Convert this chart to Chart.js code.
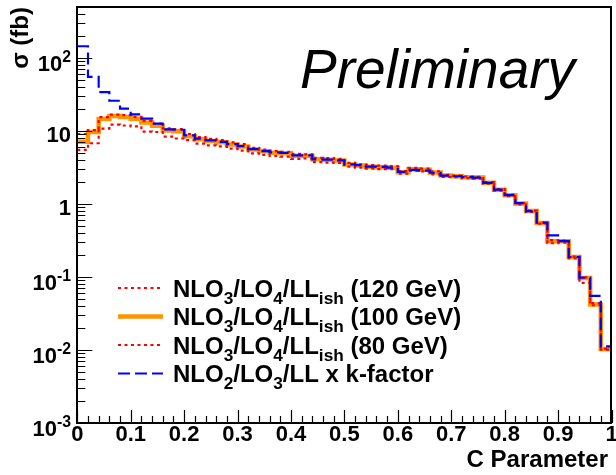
<!DOCTYPE html>
<html>
<head>
<meta charset="utf-8">
<title>C Parameter distribution</title>
<script src="https://cdn.jsdelivr.net/npm/chart.js@4.4.1/dist/chart.umd.min.js"></script>
<style>
  html, body { margin: 0; padding: 0; background: #fff; overflow: hidden; }
  canvas { display: block; }
</style>
</head>
<body>
<canvas id="cparam" width="616" height="475"></canvas>
<script>
// Lower edges of the 50 histogram bins (bin width 0.02)
const binLowEdges = [
  0.00, 0.02, 0.04, 0.06, 0.08, 0.10, 0.12, 0.14, 0.16, 0.18,
  0.20, 0.22, 0.24, 0.26, 0.28, 0.30, 0.32, 0.34, 0.36, 0.38,
  0.40, 0.42, 0.44, 0.46, 0.48, 0.50, 0.52, 0.54, 0.56, 0.58,
  0.60, 0.62, 0.64, 0.66, 0.68, 0.70, 0.72, 0.74, 0.76, 0.78,
  0.80, 0.82, 0.84, 0.86, 0.88, 0.90, 0.92, 0.94, 0.96, 0.98
];
const xUpperEdge = 1.0;

// sigma per bin (fb)
const sigma120 = [
  9.1, 10.3, 15.5, 16.8, 16.5, 15.6, 13.8, 12.6, 10.9, 10.6,
  9.1, 8.25, 7.8, 7.5, 7.0, 6.6, 5.9, 5.55, 5.3, 5.2,
  4.85, 4.8, 4.3, 4.25, 4.15, 3.65, 3.5, 3.4, 3.35, 3.3,
  2.83, 3.12, 3.05, 2.8, 2.5, 2.45, 2.38, 2.35, 1.99, 1.6,
  1.35, 1.03, 0.81, 0.555, 0.32, 0.315, 0.19, 0.099, 0.044, 0.0104
];
const sigma100 = [
  7.1, 9.7, 14.6, 16.0, 15.6, 14.7, 13.1, 11.8, 10.2, 9.9,
  8.5, 7.7, 7.3, 7.0, 6.55, 6.15, 5.6, 5.3, 5.05, 4.95,
  4.6, 4.6, 4.1, 4.05, 3.95, 3.48, 3.38, 3.25, 3.2, 3.15,
  2.72, 3.0, 2.95, 2.7, 2.45, 2.4, 2.33, 2.3, 1.95, 1.57,
  1.32, 1.02, 0.80, 0.55, 0.31, 0.31, 0.188, 0.097, 0.042, 0.0103
];
const sigma80 = [
  5.5, 6.8, 10.8, 12.2, 11.9, 11.6, 9.8, 9.7, 8.4, 7.9,
  7.5, 6.7, 6.35, 6.15, 5.75, 5.4, 4.95, 4.7, 4.55, 4.45,
  4.15, 4.2, 3.75, 3.7, 3.65, 3.25, 3.15, 3.05, 3.0, 3.0,
  2.6, 2.85, 2.8, 2.55, 2.35, 2.33, 2.26, 2.23, 1.9, 1.52,
  1.28, 0.99, 0.78, 0.54, 0.29, 0.295, 0.18, 0.083, 0.041, 0.0101
];
const sigmaKFactor = [
  145, 55, 34, 26, 20.3, 16.9, 14.8, 12.6, 10.5, 10.4,
  8.7, 7.85, 7.45, 7.1, 6.6, 6.2, 5.65, 5.3, 5.1, 5.0,
  4.65, 4.65, 4.1, 4.05, 3.95, 3.5, 3.4, 3.25, 3.22, 3.15,
  2.75, 2.93, 2.87, 2.68, 2.45, 2.4, 2.34, 2.3, 1.95, 1.57,
  1.32, 1.03, 0.80, 0.556, 0.373, 0.31, 0.188, 0.098, 0.055, 0.0112
];

// Legend texts (TLatex-like markup: _{...} subscript, ^{...} superscript)
const seriesLabels = [
  'NLO_{3}/LO_{4}/LL_{ish} (120 GeV)',
  'NLO_{3}/LO_{4}/LL_{ish} (100 GeV)',
  'NLO_{3}/LO_{4}/LL_{ish} (80 GeV)',
  'NLO_{2}/LO_{3}/LL x k-factor'
];

// Axis ticks and labels
const xTickValues = [0, 0.1, 0.2, 0.3, 0.4, 0.5, 0.6, 0.7, 0.8, 0.9, 1];
const xTickLabels = ['0', '0.1', '0.2', '0.3', '0.4', '0.5', '0.6', '0.7', '0.8', '0.9', '1'];
const yTickValues = [0.001, 0.01, 0.1, 1, 10, 100];
const yTickLabels = ['10^{-3}', '10^{-2}', '10^{-1}', '1', '10', '10^{2}'];
const xTitle = 'C Parameter';
const yTitle = 'σ (fb)';
const stampText = 'Preliminary';

const FONT = "'Liberation Sans', Arial, Helvetica, sans-serif";

// Histogram outline: one point per bin low edge plus the closing upper edge
function histPoints(values) {
  const pts = binLowEdges.map((x, i) => ({ x: x, y: values[i] }));
  pts.push({ x: xUpperEdge, y: values[values.length - 1] });
  return pts;
}

// Draws a string with _{} / ^{} markup; returns the end x
function richParts(str) {
  return str.split(/(_\{[^}]*\}|\^\{[^}]*\})/).filter(s => s.length);
}
function drawRich(ctx, str, x, y, size, weight, measureOnly) {
  let cx = x;
  for (const p of richParts(str)) {
    let t = p, s = size, dy = 0;
    if (p.startsWith('_{')) { t = p.slice(2, -1); s = size * 0.72; dy = size * 0.3; }
    else if (p.startsWith('^{')) { t = p.slice(2, -1); s = size * 0.72; dy = -size * 0.4; }
    ctx.font = `${weight} ${s}px ${FONT}`;
    if (!measureOnly) ctx.fillText(t, cx, y + dy);
    cx += ctx.measureText(t).width;
  }
  return cx;
}

const seriesStyles = [
  { color: '#ff0000', width: 2.2, dash: [3, 3.5] },
  { color: '#ff9400', width: 4.5, dash: [] },
  { color: '#ff0000', width: 2.2, dash: [3, 3.5] },
  { color: '#0000ff', width: 2.2, dash: [12, 5] }
];

// Frame, inner tick marks, labels, legend and stamp in the ROOT look
const rootFrame = {
  id: 'rootFrame',
  afterDatasetsDraw(chart) {
    const { ctx, chartArea: a, scales: { x, y } } = chart;
    ctx.save();
    ctx.strokeStyle = '#000';
    ctx.fillStyle = '#000';

    // x ticks (inside the frame)
    ctx.lineWidth = 1.2;
    ctx.beginPath();
    for (let i = 0; i <= 50; i++) {
      const px = Math.round(x.getPixelForValue(i / 50)) + 0.5;
      const len = (i % 5 === 0) ? 13 : 7;
      ctx.moveTo(px, a.bottom);
      ctx.lineTo(px, a.bottom - len);
    }
    // y ticks (log decades and 2..9 subdivisions)
    for (let d = -3; d <= 2; d++) {
      for (let m = 1; m <= 9; m++) {
        const v = m * Math.pow(10, d);
        if (v > y.max) break;
        const py = Math.round(y.getPixelForValue(v)) + 0.5;
        const len = (m === 1) ? 15 : 8;
        ctx.moveTo(a.left, py);
        ctx.lineTo(a.left + len, py);
      }
    }
    ctx.stroke();

    // frame
    ctx.lineWidth = 2;
    ctx.strokeRect(Math.round(a.left), Math.round(a.top), Math.round(a.right - a.left), Math.round(a.bottom - a.top));

    // x tick labels
    ctx.textBaseline = 'alphabetic';
    ctx.font = `bold 22px ${FONT}`;
    ctx.textAlign = 'center';
    xTickValues.forEach((v, i) => {
      ctx.fillText(xTickLabels[i], x.getPixelForValue(v), a.bottom + 18);
    });

    // y tick labels, right aligned
    ctx.textAlign = 'left';
    yTickValues.forEach((v, i) => {
      const lab = yTickLabels[i];
      const w = drawRich(ctx, lab, 0, 0, 22, 'bold', true);
      const hasExp = lab.indexOf('^{') >= 0;
      const py = y.getPixelForValue(v) + (hasExp ? 13 : 11);
      drawRich(ctx, lab, 71 - w, py, 22, 'bold', false);
    });

    // axis titles
    ctx.font = `bold 24px ${FONT}`;
    ctx.textAlign = 'right';
    ctx.fillText(xTitle, 608, 467);
    ctx.save();
    ctx.translate(28, a.top);
    ctx.rotate(-Math.PI / 2);
    ctx.textAlign = 'right';
    ctx.fillText(yTitle, 0, 0);
    ctx.restore();

    // stamp
    ctx.textAlign = 'left';
    ctx.font = `italic 55px ${FONT}`;
    ctx.fillText(stampText, 300, 88);

    // legend
    const rowBase = [296.5, 325, 353.5, 382];
    seriesLabels.forEach((lab, i) => {
      const st = seriesStyles[i];
      const ly = rowBase[i] - 8.5;
      ctx.save();
      ctx.strokeStyle = st.color;
      ctx.lineWidth = st.width;
      ctx.setLineDash(st.dash);
      ctx.beginPath();
      ctx.moveTo(118, ly);
      ctx.lineTo(163, ly);
      ctx.stroke();
      ctx.restore();
      ctx.fillStyle = '#000';
      drawRich(ctx, lab, 173, rowBase[i], 24, 'bold', false);
    });
    ctx.restore();
  }
};

const datasetOrder = [1, 2, 1, 0];
const seriesData = [sigma120, sigma100, sigma80, sigmaKFactor];

new Chart(document.getElementById('cparam'), {
  type: 'line',
  data: {
    datasets: seriesData.map((vals, i) => ({
      label: seriesLabels[i],
      data: histPoints(vals),
      borderColor: seriesStyles[i].color,
      borderWidth: seriesStyles[i].width,
      borderDash: seriesStyles[i].dash,
      borderCapStyle: 'butt',
      borderJoinStyle: 'miter',
      stepped: true,
      fill: false,
      pointRadius: 0,
      order: datasetOrder[i]
    }))
  },
  options: {
    responsive: false,
    animation: false,
    devicePixelRatio: 1,
    layout: { padding: { top: 7, right: 4.5, left: 0, bottom: 0 } },
    plugins: { legend: { display: false }, tooltip: { enabled: false } },
    scales: {
      x: {
        type: 'linear', min: 0, max: 1,
        grid: { display: false, drawTicks: false },
        border: { display: false },
        ticks: { display: false },
        afterFit(s) { s.height = 52; }
      },
      y: {
        type: 'logarithmic', min: 0.001, max: 500,
        grid: { display: false, drawTicks: false },
        border: { display: false },
        ticks: { display: false },
        afterFit(s) { s.width = 77.3; }
      }
    }
  },
  plugins: [rootFrame]
});
</script>
</body>
</html>
